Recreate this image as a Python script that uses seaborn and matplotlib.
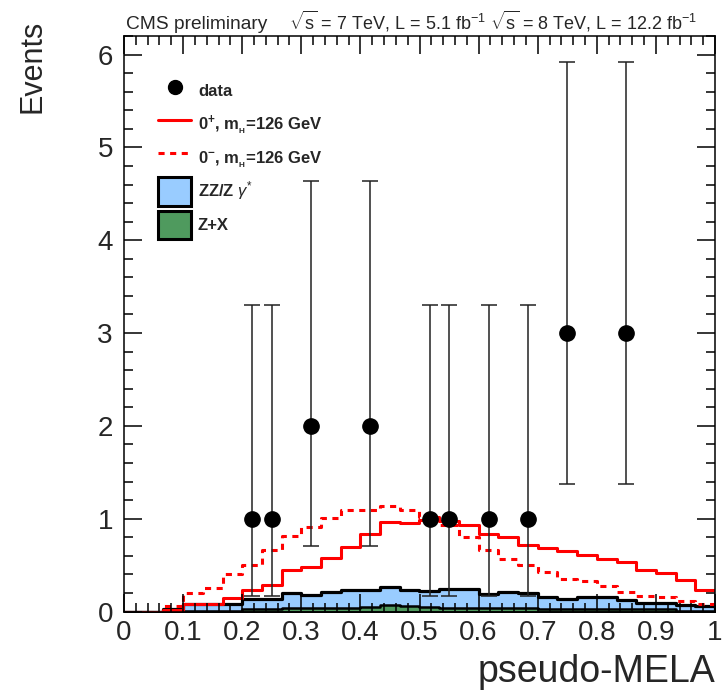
import numpy as np
import pandas as pd
import matplotlib
matplotlib.use("Agg")
import matplotlib.pyplot as plt
from matplotlib.lines import Line2D
from matplotlib.patches import Patch
import seaborn as sns

# ---- binning: 30 equal bins on [0, 1] ----
n_bins = 30
x_min, x_max = 0.0, 1.0

# expected yields per bin
sig_0plus = [0.0, 0.0, 0.02, 0.08, 0.08, 0.15, 0.23, 0.29, 0.45, 0.48,
             0.58, 0.70, 0.83, 0.96, 0.95, 0.99, 0.97, 0.93, 0.84, 0.80,
             0.72, 0.68, 0.65, 0.61, 0.57, 0.53, 0.45, 0.41, 0.34, 0.23]
sig_0minus = [0.0, 0.0, 0.06, 0.20, 0.25, 0.40, 0.50, 0.66, 0.81, 0.91,
              1.01, 1.09, 1.09, 1.14, 1.09, 1.02, 0.93, 0.80, 0.66, 0.57,
              0.50, 0.43, 0.35, 0.33, 0.28, 0.21, 0.17, 0.16, 0.11, 0.08]
bkg_zx = [0.0, 0.0, 0.005, 0.01, 0.01, 0.01, 0.03, 0.03, 0.035, 0.04,
          0.04, 0.04, 0.045, 0.07, 0.06, 0.045, 0.04, 0.04, 0.035, 0.035,
          0.035, 0.03, 0.03, 0.03, 0.03, 0.03, 0.025, 0.025, 0.01, 0.005]
bkg_zz = [0.0, 0.0, 0.025, 0.075, 0.07, 0.07, 0.10, 0.11, 0.165, 0.14,
          0.17, 0.19, 0.185, 0.19, 0.17, 0.175, 0.20, 0.20, 0.155, 0.175,
          0.165, 0.13, 0.11, 0.13, 0.13, 0.09, 0.065, 0.065, 0.06, 0.055]

# observed events with 68% Poisson intervals
data_x = [0.217, 0.250, 0.317, 0.417, 0.517, 0.550, 0.617, 0.683, 0.750, 0.850]
data_n = [1, 1, 2, 2, 1, 1, 1, 1, 3, 3]
data_lo = [0.17, 0.17, 0.71, 0.71, 0.17, 0.17, 0.17, 0.17, 1.37, 1.37]
data_hi = [3.30, 3.30, 4.64, 4.64, 3.30, 3.30, 3.30, 3.30, 5.92, 5.92]

x_ticks = [0, 0.1, 0.2, 0.3, 0.4, 0.5, 0.6, 0.7, 0.8, 0.9, 1]
x_ticklabels = ["0", "0.1", "0.2", "0.3", "0.4", "0.5", "0.6", "0.7", "0.8", "0.9", "1"]
y_ticks = [0, 1, 2, 3, 4, 5, 6]

legend_labels = ["data",
                 r"$\mathbf{0^{+}}$, $\mathbf{m_{_H}}$=126 GeV",
                 r"$\mathbf{0^{-}}$, $\mathbf{m_{_H}}$=126 GeV",
                 r"ZZ/Z $\gamma^{*}$",
                 "Z+X"]

# ---- style ----
sns.set_style("ticks")
plt.rcParams["font.family"] = ["Liberation Sans", "DejaVu Sans"]
plt.rcParams["mathtext.fontset"] = "custom"
plt.rcParams["mathtext.rm"] = "Liberation Sans"
plt.rcParams["mathtext.bf"] = "Liberation Sans:bold"
plt.rcParams["mathtext.it"] = "Liberation Sans:italic"
plt.rcParams["mathtext.sf"] = "Liberation Sans"

c_zz = "#99ccff"
c_zx = "#4f9a5e"
c_sig = "#ff0000"

edges = np.linspace(x_min, x_max, n_bins + 1)
hist = pd.DataFrame({
    "x": 0.5 * (edges[:-1] + edges[1:]),
    "sig_0plus": sig_0plus,
    "sig_0minus": sig_0minus,
    "bkg_zx": bkg_zx,
    "bkg_total": np.asarray(bkg_zz) + np.asarray(bkg_zx),
})
hkw = dict(data=hist, x="x", bins=n_bins, binrange=(x_min, x_max), element="step")

fig = plt.figure(figsize=(7.24, 6.91), dpi=100)
ax = fig.add_axes([124 / 724, 1 - 611.5 / 691, 591 / 724, 575.5 / 691])

# stacked backgrounds: ZZ on top of Z+X
sns.histplot(weights="bkg_total", fill=True, color=c_zz, edgecolor="black",
             linewidth=2.3, alpha=1, ax=ax, zorder=1, **hkw)
sns.histplot(weights="bkg_zx", fill=True, color=c_zx, edgecolor="black",
             linewidth=1.8, alpha=1, ax=ax, zorder=1.1, **hkw)

# signal hypotheses
sns.histplot(weights="sig_0plus", fill=False, color=c_sig, linewidth=2.2,
             ax=ax, zorder=2, **hkw)
sns.histplot(weights="sig_0minus", fill=False, color=c_sig, linewidth=2.2,
             linestyle=(0, (2.0, 1.8)), ax=ax, zorder=2, **hkw)

# data with asymmetric error bars
yerr = [np.asarray(data_n) - np.asarray(data_lo), np.asarray(data_hi) - np.asarray(data_n)]
ax.errorbar(data_x, data_n, yerr=yerr, fmt="o", color="black", ecolor="#222222",
            markersize=11, elinewidth=1.1, capsize=6, capthick=1.1, zorder=4)

ax.set_xlim(x_min, x_max)
ax.set_ylim(0, 6.2)
ax.set_axisbelow(False)

for s in ax.spines.values():
    s.set_linewidth(1.1)
    s.set_color("black")
    s.set_zorder(5)

ax.set_xticks(x_ticks)
ax.set_xticklabels(x_ticklabels)
ax.set_yticks(y_ticks)
ax.xaxis.set_minor_locator(matplotlib.ticker.MultipleLocator(0.02))
ax.yaxis.set_minor_locator(matplotlib.ticker.MultipleLocator(0.2))
ax.tick_params(which="both", direction="in", top=True, right=True, width=1.1,
               color="black", labelsize=20)
ax.tick_params(which="major", length=13)
ax.tick_params(which="minor", length=6.5)
ax.tick_params(axis="x", which="major", pad=6)
ax.tick_params(axis="y", which="major", pad=8)

ax.set_xlabel("pseudo-MELA", fontsize=27, loc="right", labelpad=6)
ax.set_ylabel("Events", fontsize=22, loc="top")
ax.yaxis.set_label_coords(-0.13, 1.028)

handles = [
    Line2D([], [], marker="o", ls="none", color="black", markersize=10),
    Line2D([], [], color=c_sig, lw=2.2),
    Line2D([], [], color=c_sig, lw=2.2, ls=(0, (2.0, 1.8))),
    Patch(facecolor=c_zz, edgecolor="black", linewidth=2.2),
    Patch(facecolor=c_zx, edgecolor="black", linewidth=2.2),
]
ax.legend(handles, legend_labels, loc="upper left", bbox_to_anchor=(0.0575, 0.929),
          frameon=False, borderpad=0, borderaxespad=0,
          prop={"weight": "bold", "size": 12}, handlelength=2.0, handleheight=2.25,
          handletextpad=0.4, labelspacing=0.3)

fig.text(126 / 724, 1 - 29 / 691, "CMS preliminary", fontsize=13.8, va="baseline")
fig.text(289 / 724, 1 - 29 / 691,
         r"$\sqrt{\mathrm{s}}$ = 7 TeV, L = 5.1 fb$^{-1}$ $\sqrt{\mathrm{s}}$ = 8 TeV, L = 12.2 fb$^{-1}$",
         fontsize=13, va="baseline")

fig.savefig("out.png", dpi=100)
